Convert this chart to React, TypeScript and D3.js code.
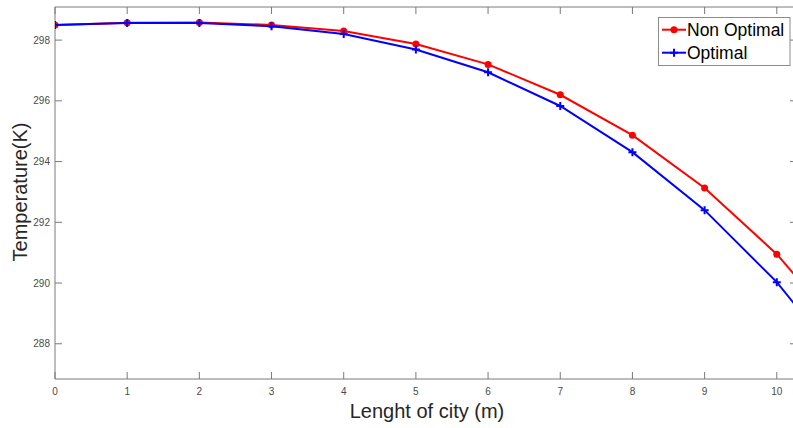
import React from "react";
import * as d3 from "d3";

const xValues = [0, 1, 2, 3, 4, 5, 6, 7, 8, 9, 10, 11];
const nonOptimal = [298.5, 298.57, 298.58, 298.5, 298.3, 297.87, 297.2, 296.2, 294.87, 293.13, 290.95, 288.2];
const optimal = [298.5, 298.56, 298.56, 298.46, 298.2, 297.69, 296.94, 295.83, 294.31, 292.4, 290.03, 287.08];
const xTicks = [0, 1, 2, 3, 4, 5, 6, 7, 8, 9, 10];
const yTicks = [288, 290, 292, 294, 296, 298];
const seriesNames = ["Non Optimal", "Optimal"];

const W = 793;
const H = 428;
const L = 55, T = 7, B = 379, R = 797;
const FONT = "'Liberation Sans', Arial, Helvetica, sans-serif";

export default function App() {
  const x = d3.scaleLinear().domain([0, 10.28]).range([L, R]);
  const y = d3.scaleLinear().domain([286.84, 299.09]).range([B, T]);
  const line = d3
    .line<number>()
    .x((_, i) => x(xValues[i]))
    .y((d) => y(d));
  const axisColor = "#7a7a7a";
  const tickText = "#4a4a4a";
  const tl = 7;

  return (
    <svg
      width={W}
      height={H}
      style={{ position: "absolute", left: 0, top: 0, background: "#fff" }}
      fontFamily={FONT}
    >
      <defs>
        <clipPath id="plotclip">
          <rect x={L} y={T} width={R - L} height={B - T} />
        </clipPath>
      </defs>
      <rect x={0} y={0} width={W} height={H} fill="#fff" />
      <line x1={L} y1={T} x2={L} y2={B} stroke={axisColor} strokeWidth={1} />
      <line x1={L} y1={B} x2={R} y2={B} stroke={axisColor} strokeWidth={1} />
      <line x1={L} y1={T} x2={R} y2={T} stroke={axisColor} strokeWidth={1} />
      <line x1={R} y1={T} x2={R} y2={B} stroke={axisColor} strokeWidth={1} />
      {xTicks.map((t) => (
        <g key={"xt" + t}>
          <line x1={x(t)} x2={x(t)} y1={B} y2={B - tl} stroke={axisColor} />
          <line x1={x(t)} x2={x(t)} y1={T} y2={T + tl} stroke={axisColor} />
          <text x={x(t)} y={B + 16} fontSize={10} textAnchor="middle" fill={tickText}>
            {t}
          </text>
        </g>
      ))}
      {yTicks.map((t) => (
        <g key={"yt" + t}>
          <line x1={L} x2={L + tl} y1={y(t)} y2={y(t)} stroke={axisColor} />
          <line x1={R} x2={R - tl} y1={y(t)} y2={y(t)} stroke={axisColor} />
          <text x={L - 5} y={y(t) + 3.5} fontSize={10} textAnchor="end" fill={tickText}>
            {t}
          </text>
        </g>
      ))}
      <g clipPath="url(#plotclip)">
        <path d={line(nonOptimal) || ""} fill="none" stroke="#ff0000" strokeWidth={2} />
        <path d={line(optimal) || ""} fill="none" stroke="#0000ff" strokeWidth={2} />
        {nonOptimal.map((v, i) => (
          <circle key={"r" + i} cx={x(xValues[i])} cy={y(v)} r={3.5} fill="#ff0000" />
        ))}
        {optimal.map((v, i) => {
          const cx = x(xValues[i]);
          const cy = y(v);
          return (
            <path
              key={"b" + i}
              d={`M${cx - 4},${cy}H${cx + 4}M${cx},${cy - 4}V${cy + 4}`}
              stroke="#0000ff"
              strokeWidth={2}
            />
          );
        })}
      </g>
      <text x={427} y={418} fontSize={20} textAnchor="middle" fill="#262626">
        Lenght of city (m)
      </text>
      <text
        transform={`translate(27,${(T + B) / 2 - 1}) rotate(-90)`}
        fontSize={20}
        textAnchor="middle"
        fill="#262626"
      >
        Temperature(K)
      </text>
      <g>
        <rect x={658.5} y={17.5} width={131.5} height={48} fill="#fff" stroke="#8c8c8c" strokeWidth={1} />
        {seriesNames.map((name, i) => {
          const cy = 29.7 + i * 23;
          return (
            <g key={name}>
              <line x1={662} x2={686} y1={cy} y2={cy} stroke={i === 0 ? "#ff0000" : "#0000ff"} strokeWidth={2} />
              {i === 0 ? (
                <circle cx={674} cy={cy} r={3.5} fill="#ff0000" />
              ) : (
                <path d={`M670,${cy}H678M674,${cy - 4}V${cy + 4}`} stroke="#0000ff" strokeWidth={2} />
              )}
              <text x={687} y={cy + 6.3} fontSize={17.5} fill="#000">
                {name}
              </text>
            </g>
          );
        })}
      </g>
    </svg>
  );
}
